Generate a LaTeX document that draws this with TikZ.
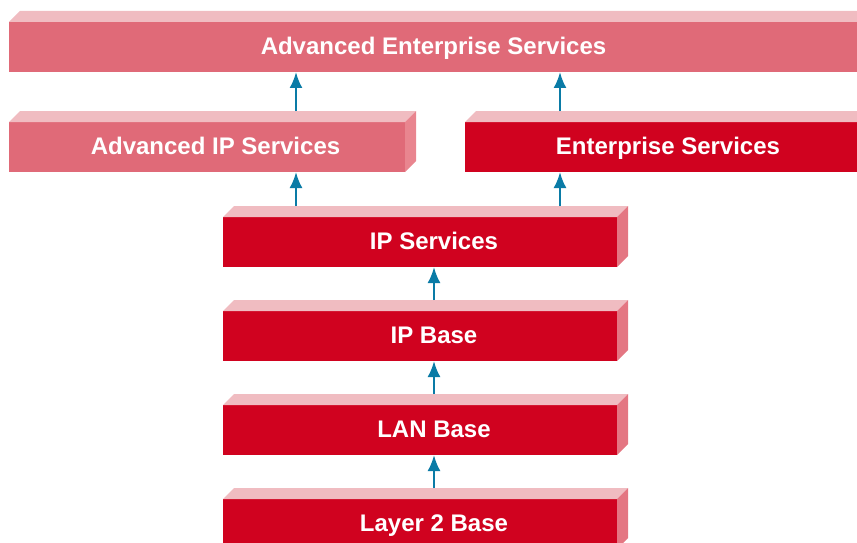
\documentclass[tikz,border=0pt]{standalone}
\usepackage{fontspec}
\setmainfont{Liberation Sans}
\usetikzlibrary{arrows.meta,calc}

\definecolor{slabred}{HTML}{D0021F}
\definecolor{slabpale}{HTML}{E06A78}
\definecolor{slabtop}{HTML}{F0BCC1}
\definecolor{sidered}{HTML}{E47682}
\definecolor{sidepale}{HTML}{E9858F}
\definecolor{flowblue}{HTML}{0A7BA6}

\tikzset{
  slab/.style={rectangle, inner sep=0pt, outer sep=0pt, minimum height=50pt},
  slabtext/.style={text=white, inner sep=0pt, text height=17pt, text depth=0pt,
    font=\fontsize{24}{28}\selectfont\bfseries},
  flow/.style={-{Latex[length=16pt,width=13pt]}, line width=2.4pt, draw=flowblue},
}

\begin{document}
\begin{tikzpicture}[x=1pt, y=-1pt]
  \useasboundingbox (0,0) rectangle (857,543);
  % front faces
  \node[slab, fill=slabpale, minimum width=849pt] (advent) at (433.5,47) {};
  \node[slab, fill=slabpale, minimum width=396pt] (advip) at (207,147) {};
  \node[slab, fill=slabred, minimum width=400pt] (ent) at (665,147) {};
  \node[slab, fill=slabred, minimum width=394pt] (ipserv) at (420,242) {};
  \node[slab, fill=slabred, minimum width=394pt] (ipbase) at (420,336) {};
  \node[slab, fill=slabred, minimum width=394pt] (lanbase) at (420,430) {};
  \node[slab, fill=slabred, minimum width=394pt] (l2base) at (420,524) {};
  % top and side faces
  \foreach \n/\side in {advent/sidepale, advip/sidepale, ent/sidered,
      ipserv/sidered, ipbase/sidered, lanbase/sidered, l2base/sidered} {
    \fill[slabtop] (\n.north west) -- ++(11,-11) -- ($(\n.north east)+(11,-11)$)
      -- (\n.north east) -- cycle;
    \fill[\side] (\n.north east) -- ++(11,-11) -- ++(0,50) -- (\n.south east) -- cycle;
  }
  % labels
  \node[slabtext] (advent-t) at (433.5,46) {Advanced Enterprise Services};
  \node[slabtext] (advip-t) at (215.5,146) {Advanced IP Services};
  \node[slabtext] (ent-t) at (668,146) {Enterprise Services};
  \node[slabtext] (ipserv-t) at (434,241) {IP Services};
  \node[slabtext] (ipbase-t) at (434,335) {IP Base};
  \node[slabtext] (lanbase-t) at (434,429) {LAN Base};
  \node[slabtext] (l2base-t) at (434,523) {Layer 2 Base};
  % upgrade arrows
  \draw[flow] ([yshift=11pt]l2base.north -| l2base-t) -- (lanbase.south -| lanbase-t);
  \draw[flow] ([yshift=11pt]lanbase.north -| lanbase-t) -- (ipbase.south -| ipbase-t);
  \draw[flow] ([yshift=11pt]ipbase.north -| ipbase-t) -- (ipserv.south -| ipserv-t);
  \draw[flow] ([yshift=11pt]ipserv.north -| 296,0) -- (advip.south -| 296,0);
  \draw[flow] ([yshift=11pt]ipserv.north -| 560,0) -- (ent.south -| 560,0);
  \draw[flow] ([yshift=11pt]advip.north -| 296,0) -- (advent.south -| 296,0);
  \draw[flow] ([yshift=11pt]ent.north -| 560,0) -- (advent.south -| 560,0);
\end{tikzpicture}
\end{document}
